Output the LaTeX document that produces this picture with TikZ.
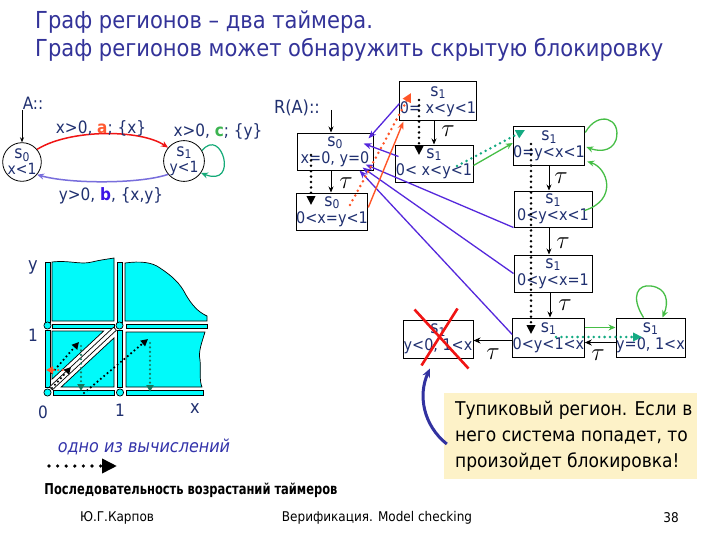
\documentclass[tikz,border=0pt]{standalone}
\usepackage{fontspec}
\setmainfont{DejaVu Sans Condensed}
\usetikzlibrary{arrows.meta,calc}
\definecolor{navy}{RGB}{32,48,112}
\definecolor{titlec}{RGB}{51,51,153}
\definecolor{redarc}{RGB}{240,20,20}
\definecolor{labA}{RGB}{255,90,50}
\definecolor{labC}{RGB}{60,180,80}
\definecolor{labB}{RGB}{60,20,230}
\definecolor{violA}{RGB}{120,110,220}
\definecolor{tealA}{RGB}{20,170,120}
\definecolor{violR}{RGB}{85,40,220}
\definecolor{orangeR}{RGB}{255,85,40}
\definecolor{greenR}{RGB}{70,190,70}
\definecolor{tealR}{RGB}{20,170,130}
\definecolor{noteY}{RGB}{253,242,200}
\definecolor{blueArr}{RGB}{50,50,160}
\definecolor{cyanc}{RGB}{0,250,250}
\definecolor{darkteal}{RGB}{20,120,95}
\definecolor{legblue}{RGB}{51,51,170}
\newcommand{\myfs}[2]{\fontsize{#1}{#2}\selectfont}
\newcommand{\sidx}[1]{{\myfs{17.5}{16}s}\raisebox{-0.3ex}{\myfs{12}{12}#1}}
\begin{document}
\begin{tikzpicture}[x=1pt,y=-1pt,
  box/.style={draw=black, line width=1pt, inner sep=0pt, align=center, text=navy, font=\myfs{16}{17}},
  circ/.style={circle, draw=black, line width=0.8pt, inner sep=0pt, minimum size=38pt, align=center, text=navy, font=\myfs{15.5}{16}},
  lab/.style={text=navy, font=\myfs{17}{17}, inner sep=0pt},
  taul/.style={font=\myfs{25}{25}, inner sep=0pt},
  tauarr/.style={line width=0.8pt, -{Stealth[length=6pt,width=5pt]}},
  violarr/.style={violR, line width=1.3pt, -{Stealth[length=8pt,width=6pt]}},
  dotline/.style={line width=2.8pt, line cap=round, dash pattern=on 0pt off 5.4pt},
  tri/.style={-{Triangle[length=9pt,width=8.5pt]}},
  pdot/.style={line width=2.4pt, line cap=round, dash pattern=on 0pt off 4.4pt},
  ptri/.style={-{Triangle[length=7pt,width=7pt]}},
  greenarr/.style={greenR, line width=1.3pt, -{Stealth[length=7pt,width=6pt]}},
  cy/.style={fill=cyanc, draw=black, line width=0.7pt}
]
\useasboundingbox[fill=white] (0,0) rectangle (713,535);

% ---------- title ----------
\node[anchor=west, text=titlec, font=\myfs{23.4}{23.4}, inner sep=0pt] (t1) at (35,22) {Граф регионов – два таймера.};
\node[anchor=west, text=titlec, font=\myfs{23.4}{23.4}, inner sep=0pt] (t2) at (35,50) {Граф регионов может обнаружить скрытую блокировку};

% ---------- automaton A ----------
\node[lab] (Alab) at (33,103) {A::};
\node[circ] (A0) at (22,162) {\sidx{0}\\x<1};
\node[circ] (A1) at (184,161) {\sidx{1}\\y<1};
\coordinate (Ain) at (22,110);
\draw[line width=0.7pt, -{Stealth[length=5pt,width=4pt]}] (Ain) -- (A0.north);
\draw[redarc, line width=1.5pt, -{Stealth[length=7pt,width=6pt]}] (A0.40) .. controls (70,129) and (140,129) .. (A1.140);
\draw[violA, line width=1.5pt, -{Stealth[length=7pt,width=6pt]}] (A1.-140) .. controls (140,184) and (70,184) .. (A0.-40);
\draw[tealA, line width=1.2pt, -{Stealth[length=7pt,width=6pt]}] (A1.30) .. controls (222,126) and (239,188) .. (A1.-35);
\node[lab] (la) at (101,128) {x>0, \textbf{\color{labA}a}; \{x\}};
\node[lab] (lc) at (218,132) {x>0, \textbf{\color{labC}c}; \{y\}};
\node[lab] (lb) at (111,196) {y>0, \textbf{\color{labB}b}, \{x,y\}};

% ---------- region graph ----------
\node[lab, font=\myfs{18}{18}] (RA) at (297,108) {R(A)::};
\node[box, minimum width=76pt, minimum height=37pt] (R0) at (335,151.5) {\sidx{0}\\x=0, y=0};
\node[box, minimum width=70pt, minimum height=37pt] (R1) at (332,211.5) {\sidx{0}\\0<x=y<1};
\node[box, minimum width=70pt, minimum height=39pt] (R2) at (438,101.5) {\sidx{1}\\0= x<y<1};
\node[box, minimum width=78pt, minimum height=37pt] (R3) at (434,163.5) {\sidx{1}\\0< x<y<1};
\node[box, minimum width=70pt, minimum height=38pt] (R4) at (549,146) {\sidx{1}\\0=y<x<1};
\node[box, minimum width=78pt, minimum height=36pt] (R5) at (553,209) {\sidx{1}\\0<y<x<1};
\node[box, minimum width=78pt, minimum height=37pt] (R6) at (553,273.5) {\sidx{1}\\0<y<x=1};
\node[box, minimum width=71pt, minimum height=39pt] (R7) at (548.5,337.5) {\sidx{1}\\0<y<1<x};
\node[box, minimum width=69pt, minimum height=39pt] (R8) at (650.5,337.5) {\sidx{1}\\y=0, 1<x};
\node[box, minimum width=70pt, minimum height=38pt] (R9) at (438,339) {\sidx{1}\\y<0, 1<x};

% helper points
\coordinate (Rin) at (331,110);
\coordinate (h01) at ($(R0.south)+(-4,0)$);
\coordinate (h45) at (R4.south);
\coordinate (h56) at ($(R5.south)+(-4,0)$);
\coordinate (h67) at ($(R6.south)+(-3,0)$);
\coordinate (h79) at ($(R7.west)+(0,3)$);
\coordinate (h87) at ($(R8.west)+(0,5)$);

% incoming
\draw[tauarr] (Rin) -- (Rin |- R0.north);
% tau arrows
\draw[tauarr] (h01) -- (h01 |- R1.north);
\node[taul] (tau1) at (346,183) {$\tau$};
\draw[tauarr] (R2.south -| R3.north) -- (R3.north);
\node[taul] (tau2) at (448,131) {$\tau$};
\draw[tauarr] (h45) -- (h45 |- R5.north);
\node[taul] (tau3) at (561,178) {$\tau$};
\draw[tauarr] (h56) -- (h56 |- R6.north);
\node[taul] (tau4) at (563,243) {$\tau$};
\draw[tauarr] (h67) -- (h67 |- R7.north);
\node[taul] (tau5) at (565,305) {$\tau$};
\draw[line width=1.6pt, -{Stealth[length=7pt,width=6pt]}] (h79) -- (h79 -| R9.east);
\node[taul] (tau6) at (493,354) {$\tau$};
\draw[line width=1.6pt, -{Stealth[length=7pt,width=6pt]}] (h87) -- (h87 -| R7.east);
\node[taul] (tau7) at (598,355) {$\tau$};

% violet arrows back to R0
\draw[violarr] ($(R2.west)+(0,2)$) -- ($(R0.north east)+(-5,6)$);
\draw[violarr] ($(R3.west)+(4,-7)$) -- ($(R0.east)+(-10,-8)$);
\draw[violarr] (R5.south west) -- ($(R0.east)+(-8,13)$);
\draw[violarr] (R6.west) -- ($(R0.east)+(-11,16)$);
\draw[violarr] ($(R7.west)+(0,-3)$) -- ($(R0.east)+(-14,19)$);

% orange arrows
\draw[orangeR, line width=1.4pt, -{Stealth[length=8pt,width=6pt]}] ($(R1.north east)+(0,15)$) -- ($(R2.south west)+(4,0)$);
\coordinate (od1) at (350,205);
\coordinate (od2) at (411,93);
\draw[orangeR, dotline, tri] (od1) -- (od2);

% black dotted time-elapse arrows
\coordinate (bd1) at (311,155);
\coordinate (bd2) at (311,205);
\draw[dotline, tri] (bd1) -- (bd2);
\coordinate (bd3) at (419,100);
\coordinate (bd4) at (419,155);
\draw[dotline, tri] (bd3) -- (bd4);
\coordinate (bd5) at (531,144);
\coordinate (bd6) at (531,334);
\draw[dotline, tri] (bd5) -- (bd6);

% green / teal
\coordinate (td1) at (457,166);
\coordinate (td2) at (525,130);
\draw[tealR, dotline, tri] (td1) -- (td2);
\draw[greenarr] ($(R3.east)+(0,2)$) -- ($(R4.west)+(0,-3)$);
\draw[greenarr] ($(R7.north east)+(0,10)$) -- ($(R8.north west)+(0,10)$);
\coordinate (td3) at (556,337);
\coordinate (td4) at (642,337);
\draw[tealR, dotline, tri] (td3) -- (td4);
\draw[greenarr] ($(R4.north east)+(0,6)$) .. controls (598,110) and (622,118) .. (616,140) .. controls (611,153) and (597,151) .. ($(R4.east)+(1,1)$);
\draw[greenarr] ($(R5.north east)+(-8,20)$) .. controls (618,200) and (608,168) .. ($(R4.south east)+(2,-4)$);
\draw[greenarr] ($(R8.north)+(-7,0)$) .. controls (630,296) and (638,284) .. (651,286) .. controls (667,288) and (669,302) .. ($(R8.north)+(12,0)$);

% dead region cross
\draw[redarc, line width=2.6pt] ($(R9.north west)+(12,-10)$) -- ($(R9.south east)+(-5,10)$);
\draw[redarc, line width=2.6pt] ($(R9.north east)+(-16,-11)$) -- ($(R9.south west)+(19,7)$);

% note
\node[fill=noteY, minimum width=253pt, minimum height=86pt, inner sep=0pt] (note) at (570.5,436) {};
\node[anchor=north west, align=left, font=\myfs{19}{26}, inner sep=0pt] (notetxt) at (455,401) {Тупиковый регион. Если в\\него система попадет, то\\произойдет блокировка!};
\draw[blueArr, line width=3pt, -{Stealth[length=9pt,width=8pt]}] ($(note.west)+(3,8)$) .. controls (423,425) and (418,395) .. ($(R9.south)+(-8,10)$);

% ---------- clock regions plot ----------
\draw[cy] (45.5,262) rectangle (50,322);
\draw[cy] (45.5,330) rectangle (50,387);
\draw[cy] (117.5,262) rectangle (122,322);
\draw[cy] (117.5,330) rectangle (122,387);
\draw[cy] (52,324) rectangle (114,328.5);
\draw[cy] (126,324) rectangle (207,328.5);
\draw[cy] (53,390.5) rectangle (114,395);
\draw[cy] (126,390.5) rectangle (203,395);
\draw[cy] (52,321) -- (52,262) .. controls (70,260) and (80,265) .. (92,262) .. controls (100,260) and (108,259) .. (114,258) -- (114,321) -- cycle;
\draw[cy] (125,321) -- (125,263) .. controls (140,261) and (152,262) .. (160,268) .. controls (172,276) and (180,283) .. (186,295) .. controls (192,305) and (198,312) .. (207,316) -- (207,321) -- cycle;
\draw[cy] (126,387) -- (126,332) -- (205,332) .. controls (202,342) and (198,352) .. (200,360) .. controls (201,370) and (199,380) .. (202,387) -- cycle;
\draw[cy] (52,331) -- (103.7,331) -- (52,379.2) -- cycle;
\draw[cy] (61.2,387) -- (114,387) -- (114,337.9) -- cycle;
\draw[fill=white, draw=black, line width=0.7pt] (49.6,386.8) -- (113.6,327.2) -- (116.4,330.2) -- (52.4,389.8) -- cycle;
\draw[cy] (47.5,325.5) circle (3.6);
\draw[cy] (119.5,325.5) circle (3.6);
\draw[cy] (47.5,392.5) circle (3.6);
\draw[cy] (120,392.5) circle (3.6);
\node[lab, font=\myfs{18}{18}] (ay) at (33,267) {y};
\node[lab, font=\myfs{17}{17}] (a1y) at (33,335) {1};
\node[lab, font=\myfs{17}{17}] (a0) at (43,412) {0};
\node[lab, font=\myfs{17}{17}] (a1x) at (120,410) {1};
\node[lab, font=\myfs{18}{18}] (ax) at (195,409) {x};
\coordinate (p1) at (52,373);
\coordinate (p2) at (79,342);
\draw[pdot, ptri] (p1) -- (p2);
\coordinate (p3) at (81,346);
\coordinate (p4) at (81,391);
\draw[darkteal, pdot, ptri] (p3) -- (p4);
\coordinate (p5) at (67,370);
\coordinate (p6) at (46,370);
\draw[orangeR, pdot, ptri] (p5) -- (p6);
\coordinate (p7) at (52,388);
\coordinate (p8) at (71,367);
\draw[pdot, ptri] (p7) -- (p8);
\coordinate (p9) at (84,393);
\coordinate (p10) at (148,339);
\draw[pdot, ptri] (p9) -- (p10);
\coordinate (p11) at (150,343);
\coordinate (p12) at (150,392);
\draw[darkteal, pdot, ptri] (p11) -- (p12);

% ---------- legend ----------
\node[text=legblue, font=\myfs{17.8}{17.8}\itshape, inner sep=0pt] (leg1) at (144,447) {одно из вычислений};
\coordinate (lg1) at (49,466);
\coordinate (lg2) at (117,466);
\draw[line width=3.6pt, line cap=round, dash pattern=on 0pt off 8.6pt, -{Triangle[length=15pt,width=14pt]}] (lg1) -- (lg2);
\node[font=\myfs{15}{15}\bfseries, inner sep=0pt] (leg2) at (191,490) {\scalebox{0.85}[1]{Последовательность возрастаний таймеров}};

% ---------- footer ----------
\node[font=\myfs{13.4}{13.4}, inner sep=0pt] (f1) at (117,518) {Ю.Г.Карпов};
\node[font=\myfs{13.4}{13.4}, inner sep=0pt] (f2) at (377,518) {Верификация. Model checking};
\node[font=\myfs{13.4}{13.4}, inner sep=0pt] (f3) at (671,518) {38};
\end{tikzpicture}
\end{document}
